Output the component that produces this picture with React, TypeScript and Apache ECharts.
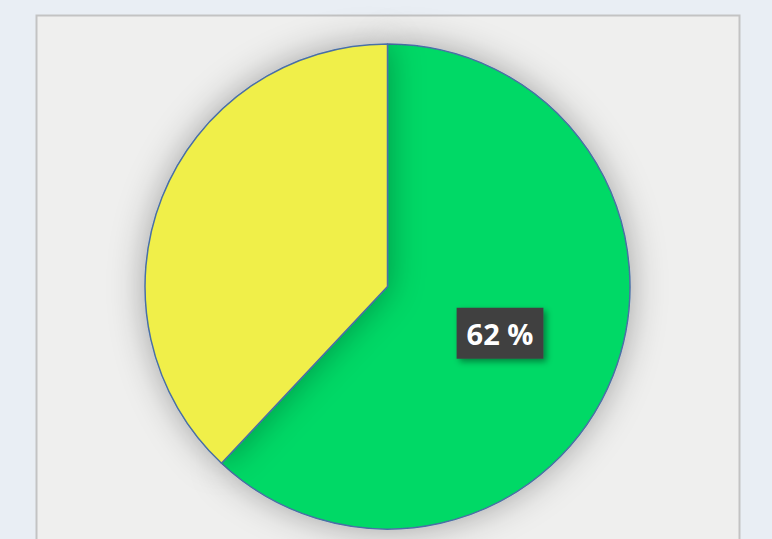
import React, { useEffect, useRef } from "react";
import * as echarts from "echarts";

const categories = ["Green", "Yellow"];
const values = [62, 38];
const colors = ["#00d966", "#f0ef48"];
const showLabel = [true, false];

export default function App() {
  const ref = useRef<HTMLDivElement>(null);
  useEffect(() => {
    document.body.style.margin = "0";
    const chart = echarts.init(ref.current!, null, { renderer: "svg" });
    chart.setOption({
      animation: false,
      backgroundColor: "#e9eef4",
      graphic: [
        {
          type: "rect",
          shape: { x: 36.5, y: 15.5, width: 703, height: 540 },
          style: { fill: "#efefee", stroke: "#c3c3c3", lineWidth: 2 },
          z: -1,
        },
      ],
      series: [
        {
          type: "pie",
          center: [387.5, 286.5],
          radius: 242.5,
          startAngle: 90,
          clockwise: true,
          itemStyle: {
            borderColor: "#4a6fa5",
            borderWidth: 1.5,
            shadowBlur: 35,
            shadowColor: "rgba(0,0,0,0.32)",
          },
          emphasis: { disabled: true },
          label: {
            position: "inside",
            formatter: "{d} %",
            color: "#ffffff",
            fontFamily: "Open Sans",
            fontWeight: "bold",
            fontSize: 29,
            backgroundColor: "#404040",
            padding: [11, 10, 11, 10],
            offset: [-3, 1],
            shadowBlur: 6,
            shadowOffsetX: 3,
            shadowOffsetY: 3,
            shadowColor: "rgba(0,0,0,0.4)",
          },
          labelLine: { show: false },
          data: categories.map((name, i) => ({
            name,
            value: values[i],
            itemStyle: { color: colors[i] },
            label: { show: showLabel[i] },
          })),
        },
      ],
    });
    return () => chart.dispose();
  }, []);
  return (
    <div
      ref={ref}
      style={{ position: "absolute", left: 0, top: 0, width: 772, height: 539 }}
    />
  );
}
